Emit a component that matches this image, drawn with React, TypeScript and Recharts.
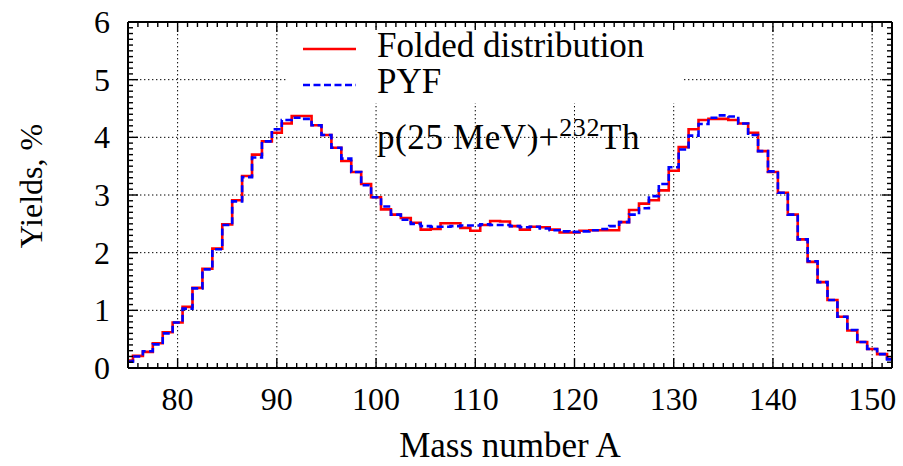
import { LineChart, Line, XAxis, YAxis, CartesianGrid, Legend } from 'recharts';

// Mass numbers (bin centres, 1 u wide)
const MASS = [
  75, 76, 77, 78, 79, 80, 81, 82, 83, 84, 85, 86, 87, 88, 89, 90, 91, 92, 93, 94,
  95, 96, 97, 98, 99, 100, 101, 102, 103, 104, 105, 106, 107, 108, 109, 110, 111, 112, 113, 114,
  115, 116, 117, 118, 119, 120, 121, 122, 123, 124, 125, 126, 127, 128, 129, 130, 131, 132, 133, 134,
  135, 136, 137, 138, 139, 140, 141, 142, 143, 144, 145, 146, 147, 148, 149, 150, 151, 152,
];

// Yields, % — folded distribution
const FOLDED = [
  0.13, 0.21, 0.28, 0.43, 0.62, 0.79, 1.06, 1.39, 1.72, 2.07,
  2.49, 2.91, 3.33, 3.70, 3.93, 4.08, 4.24, 4.37, 4.37, 4.21,
  4.04, 3.82, 3.59, 3.40, 3.19, 2.96, 2.75, 2.66, 2.60, 2.52,
  2.40, 2.41, 2.51, 2.51, 2.43, 2.38, 2.48, 2.55, 2.54, 2.46,
  2.40, 2.45, 2.44, 2.40, 2.35, 2.35, 2.38, 2.39, 2.39, 2.39,
  2.53, 2.74, 2.85, 2.91, 3.08, 3.42, 3.83, 4.14, 4.30, 4.32,
  4.32, 4.30, 4.24, 4.08, 3.76, 3.40, 3.04, 2.66, 2.23, 1.84,
  1.49, 1.18, 0.89, 0.65, 0.45, 0.33, 0.24, 0.16,
];

// Yields, % — PYF
const PYF = [
  0.11, 0.20, 0.29, 0.41, 0.60, 0.79, 1.03, 1.38, 1.71, 2.06,
  2.48, 2.89, 3.31, 3.65, 3.93, 4.14, 4.30, 4.34, 4.32, 4.21,
  4.04, 3.82, 3.63, 3.40, 3.17, 2.96, 2.80, 2.66, 2.57, 2.50,
  2.46, 2.45, 2.45, 2.46, 2.47, 2.47, 2.49, 2.48, 2.48, 2.46,
  2.44, 2.45, 2.42, 2.39, 2.37, 2.36, 2.37, 2.39, 2.41, 2.46,
  2.53, 2.66, 2.77, 2.98, 3.19, 3.48, 3.79, 4.03, 4.23, 4.34,
  4.38, 4.36, 4.24, 4.04, 3.76, 3.41, 3.04, 2.66, 2.23, 1.85,
  1.49, 1.18, 0.89, 0.66, 0.45, 0.33, 0.24, 0.15,
];

const X_MAJOR = [80, 90, 100, 110, 120, 130, 140, 150];
const Y_MAJOR = [0, 1, 2, 3, 4, 5, 6];
const X_TICKS = MASS;
const Y_TICKS = Array.from({ length: 61 }, (_, i) => i / 10);

const data = MASS.map((a, i) => ({ a, folded: FOLDED[i], pyf: PYF[i] }));

const FONT = '"Liberation Serif", "Times New Roman", serif';
const TICK_FS = 32;
const TEXT_FS = 35;

const isMajorY = (v: number) => Math.abs(v - Math.round(v)) < 1e-6;

// inward tick marks, labels only on the bottom / left axes
const BottomTick = ({ x, y, payload }: any) => {
  const major = payload.value % 10 === 0;
  return (
    <g>
      <line x1={x} x2={x} y1={y} y2={y - (major ? 10 : 5)} stroke="#000" strokeWidth={1.4} />
      {major && (
        <text x={x} y={y + 42} textAnchor="middle" fontSize={TICK_FS} fontFamily={FONT} fill="#000">
          {payload.value}
        </text>
      )}
    </g>
  );
};

const TopTick = ({ x, y, payload }: any) => {
  const major = payload.value % 10 === 0;
  return <line x1={x} x2={x} y1={y} y2={y + (major ? 10 : 5)} stroke="#000" strokeWidth={1.4} />;
};

const LeftTick = ({ x, y, payload }: any) => {
  const major = isMajorY(payload.value);
  return (
    <g>
      <line x1={x} x2={x + (major ? 10 : 5)} y1={y} y2={y} stroke="#000" strokeWidth={1.4} />
      {major && (
        <text x={x - 18} y={y + 11} textAnchor="end" fontSize={TICK_FS} fontFamily={FONT} fill="#000">
          {Math.round(payload.value)}
        </text>
      )}
    </g>
  );
};

const RightTick = ({ x, y, payload }: any) => {
  const major = isMajorY(payload.value);
  return <line x1={x} x2={x - (major ? 10 : 5)} y1={y} y2={y} stroke="#000" strokeWidth={1.4} />;
};

const LegendBox = () => (
  <svg width={395} height={73} style={{ display: 'block', overflow: 'visible' }}>
    <line x1={16} x2={69} y1={19} y2={19} stroke="#ff0000" strokeWidth={2.6} />
    <text x={90} y={27} fontSize={TEXT_FS} fontFamily={FONT} fill="#000">Folded distribution</text>
    <line x1={16} x2={69} y1={55} y2={55} stroke="#0000ff" strokeWidth={2.6} strokeDasharray="7 3.5" />
    <text x={90} y={63} fontSize={TEXT_FS} fontFamily={FONT} fill="#000">PYF</text>
  </svg>
);

export default function App() {
  return (
    <div style={{ position: 'absolute', left: 0, top: 0, width: 903, height: 466, background: '#fff' }}>
      <LineChart
        width={903}
        height={466}
        data={data}
        margin={{ top: 0, right: 0, bottom: 0, left: 0 }}
      >
        <CartesianGrid
          xAxisId={0}
          yAxisId={0}
          verticalValues={X_MAJOR}
          horizontalValues={Y_MAJOR}
          stroke="#000"
          strokeWidth={1}
          strokeDasharray="1.4 2.6"
        />
        <XAxis
          dataKey="a"
          type="number"
          domain={[75, 152]}
          allowDataOverflow
          ticks={X_TICKS}
          interval={0}
          height={98}
          tickSize={0}
          tickMargin={0}
          tickLine={false}
          axisLine={{ stroke: '#000', strokeWidth: 2 }}
          tick={BottomTick}
        />
        <XAxis
          xAxisId="top"
          orientation="top"
          dataKey="a"
          type="number"
          domain={[75, 152]}
          allowDataOverflow
          ticks={X_TICKS}
          interval={0}
          height={22}
          tickSize={0}
          tickMargin={0}
          tickLine={false}
          axisLine={{ stroke: '#000', strokeWidth: 2 }}
          tick={TopTick}
        />
        <YAxis
          type="number"
          domain={[0, 6]}
          allowDataOverflow
          ticks={Y_TICKS}
          interval={0}
          width={128}
          tickSize={0}
          tickMargin={0}
          tickLine={false}
          axisLine={{ stroke: '#000', strokeWidth: 2 }}
          tick={LeftTick}
        />
        <YAxis
          yAxisId="right"
          orientation="right"
          type="number"
          domain={[0, 6]}
          allowDataOverflow
          ticks={Y_TICKS}
          interval={0}
          width={11}
          tickSize={0}
          tickMargin={0}
          tickLine={false}
          axisLine={{ stroke: '#000', strokeWidth: 2 }}
          tick={RightTick}
        />
        <Legend
          layout="vertical"
          align="center"
          verticalAlign="middle"
          wrapperStyle={{ left: 287, top: 30, width: 395, height: 73, background: '#fff' }}
          content={() => <LegendBox />}
        />
        <Line
          type="step"
          dataKey="folded"
          name="Folded distribution"
          stroke="#ff0000"
          strokeWidth={2.6}
          dot={false}
          activeDot={false}
          isAnimationActive={false}
        />
        <Line
          type="step"
          dataKey="pyf"
          name="PYF"
          stroke="#0000ff"
          strokeWidth={2.6}
          strokeDasharray="7 3.5"
          dot={false}
          activeDot={false}
          isAnimationActive={false}
        />
      </LineChart>

      {/* axis titles and reaction label */}
      <svg
        width={903}
        height={466}
        style={{ position: 'absolute', left: 0, top: 0, pointerEvents: 'none' }}
      >
        <text
          x={42}
          y={186}
          transform="rotate(-90 42 186)"
          textAnchor="middle"
          fontSize={32}
          fontFamily={FONT}
          fill="#000"
        >
          Yields, %
        </text>
        <text x={510} y={457} textAnchor="middle" fontSize={TEXT_FS} fontFamily={FONT} fill="#000">
          Mass number A
        </text>
        <text x={377} y={149} fontSize={TEXT_FS} fontFamily={FONT} fill="#000" letterSpacing={0.6}>
          p(25 MeV)+
          <tspan dy={-13} fontSize={26}>232</tspan>
          <tspan dy={13}>Th</tspan>
        </text>
      </svg>
    </div>
  );
}
